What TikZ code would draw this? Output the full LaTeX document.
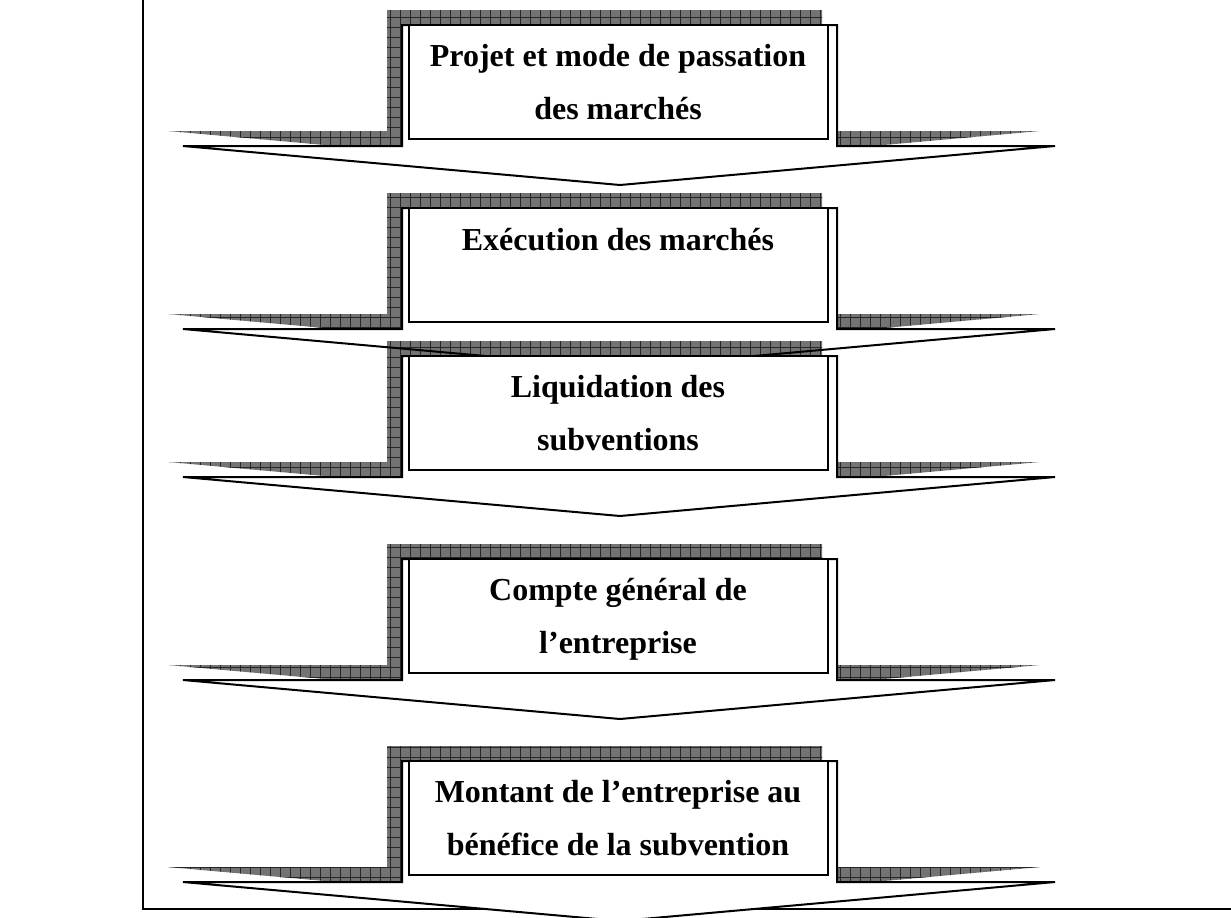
\documentclass[tikz,border=0pt]{standalone}
\usepackage{fontspec}
\setmainfont{Liberation Serif}
\usetikzlibrary{patterns.meta}

% contour d'une fleche de legende, haut de la fleche en #1
\newcommand\fleche[1]{(402,#1) -- (837,#1) -- (837,#1+121) -- (1055,#1+121)
  -- (620,#1+160) -- (183,#1+121) -- (402,#1+121) -- cycle}

\begin{document}
\begin{tikzpicture}[x=0.5pt,y=-0.5pt]
    \tikzset{ombre/.style={fill=black!55,
        postaction={pattern={Lines[distance=5pt,angle=0,line width=0.4pt]},pattern color=black!85},
        postaction={pattern={Lines[distance=5pt,angle=90,line width=0.4pt]},pattern color=black!85}}}
    \tikzset{cadre/.style={draw,fill=white,line width=0.6pt}}
    \tikzset{titre/.style={font=\bfseries\fontsize{16}{26.5}\selectfont,align=center,anchor=base,inner sep=0pt}}
    \useasboundingbox (0,0) rectangle (1231,917);
    \coordinate (haut) at (143,0);
    \coordinate (coin) at (143,909);
    \coordinate (droite) at (1231,909);
    \draw[line width=0.8pt] (haut) -- (coin) -- (droite);
    % ombres et fonds blancs
    \foreach \t in {25,208,356,559,761} {
      \path[ombre,shift={(-15,-15)}] \fleche{\t};
      \path[fill=white] \fleche{\t};
    }
    % contours
    \foreach \t in {25,208,356,559,761}
      \draw[line width=1pt,line join=miter] \fleche{\t};
    % cadres de texte
    \foreach \t in {25,208,356,559,761}
      \draw[cadre] (409,\t) rectangle (828,\t+114);
    \node[titre] (projet) at (618,119) {Projet et mode de passation\\des marchés};
    \node[titre] (execution) at (618,250) {Exécution des marchés};
    \node[titre] (liquidation) at (618,450) {Liquidation des\\subventions};
    \node[titre] (compte) at (618,653) {Compte général de\\l’entreprise};
    \node[titre] (montant) at (618,855) {Montant de l’entreprise au\\bénéfice de la subvention};
\end{tikzpicture}
\end{document}
